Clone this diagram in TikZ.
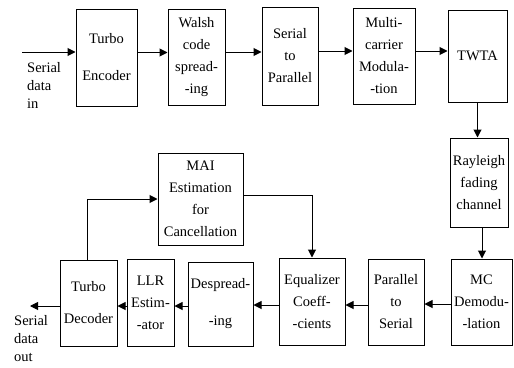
\documentclass[tikz,border=0pt]{standalone}
\usepackage{fontspec}
\setmainfont{Liberation Serif}
\usetikzlibrary{arrows.meta}

\begin{document}
\begin{tikzpicture}[x=1pt, y=-1pt,
  blockbox/.style={draw, line width=1pt, rectangle, align=center, inner sep=1pt, font=\fontsize{14.5}{22}\selectfont},
  flowarrow/.style={line width=1pt, -{Triangle[length=8pt, width=8pt]}},
  plaintext/.style={align=left, inner sep=0pt, font=\fontsize{14.5}{18}\selectfont}]%
\useasboundingbox (0,0) rectangle (514,367);%
\node[blockbox, minimum width=61pt, minimum height=97pt] (enc) at (106.5, 57.5) {Turbo\\[15pt]Encoder};%
\node[blockbox, minimum width=57pt, minimum height=96pt] (walsh) at (196.5, 57) {Walsh\\code\\spread-\\-ing};%
\node[blockbox, minimum width=56pt, minimum height=98pt] (stop) at (290, 56) {Serial\\to\\Parallel};%
\node[blockbox, minimum width=62pt, minimum height=96pt] (mcmod) at (384, 56) {Multi-\\carrier\\Modula-\\-tion};%
\node[blockbox, minimum width=59pt, minimum height=92pt] (twta) at (477.5, 56) {TWTA};%
\node[blockbox, minimum width=58pt, minimum height=89pt] (ray) at (479, 182.5) {Rayleigh\\fading\\channel};%
\node[blockbox, minimum width=61pt, minimum height=86pt] (mcdem) at (481.5, 302) {MC\\Demodu-\\-lation};%
\node[blockbox, minimum width=56pt, minimum height=86pt] (ptos) at (396, 302) {Parallel\\to\\Serial};%
\node[blockbox, minimum width=66pt, minimum height=87pt] (equal) at (312, 301.5) {Equalizer\\Coeff-\\-cients};%
\node[blockbox, minimum width=65pt, minimum height=84pt] (desp) at (220.5, 304) {Despread-\\[15pt]-ing};%
\node[blockbox, minimum width=47pt, minimum height=87pt] (llr) at (150.5, 302.5) {LLR\\Estim-\\-ator};%
\node[blockbox, minimum width=57pt, minimum height=86pt] (dec) at (88.5, 303) {Turbo\\[10pt]Decoder};%
\node[blockbox, minimum width=85pt, minimum height=92pt] (mai) at (200.5, 199) {MAI\\Estimation\\for\\Cancellation};%
\coordinate (din) at (22, 52);%
\coordinate (dout) at (30, 306);%
\node[plaintext, anchor=north west] (inlabel) at (27, 62) {Serial\\data\\in};%
\node[plaintext, anchor=north west] (outlabel) at (14, 315) {Serial\\data\\out};%
\draw[flowarrow] (din) -- (din -| enc.west);%
\draw[flowarrow] ([yshift=5pt]enc.east) -- ([yshift=5pt]enc.east -| walsh.west);%
\draw[flowarrow] ([yshift=5pt]walsh.east) -- ([yshift=5pt]walsh.east -| stop.west);%
\draw[flowarrow] ([yshift=5pt]stop.east) -- ([yshift=5pt]stop.east -| mcmod.west);%
\draw[flowarrow] ([yshift=5pt]mcmod.east) -- ([yshift=5pt]mcmod.east -| twta.west);%
\draw[flowarrow] (twta.south) -- (twta.south |- ray.north);%
\draw[flowarrow] ([xshift=3pt]ray.south) -- ([xshift=3pt]ray.south |- mcdem.north);%
\draw[flowarrow] ([yshift=-2pt]mcdem.west) -- ([yshift=-2pt]mcdem.west -| ptos.east);%
\draw[flowarrow] ([yshift=-3pt]ptos.west) -- ([yshift=-3pt]ptos.west -| equal.east);%
\draw[flowarrow] ([yshift=-3.5pt]equal.west) -- ([yshift=-3.5pt]equal.west -| desp.east);%
\draw[flowarrow] ([yshift=-2pt]desp.west) -- ([yshift=-2pt]desp.west -| llr.east);%
\draw[flowarrow] ([yshift=-3.5pt]llr.west) -- ([yshift=-3.5pt]llr.west -| dec.east);%
\draw[flowarrow] ([yshift=-3pt]dec.west) -- ([yshift=-3pt]dec.west -| dout);%
\draw[flowarrow] ([xshift=-1.5pt]dec.north) |- (mai.west);%
\draw[flowarrow] ([yshift=4pt]mai.east) -| (equal.north);%
\end{tikzpicture}
\end{document}
